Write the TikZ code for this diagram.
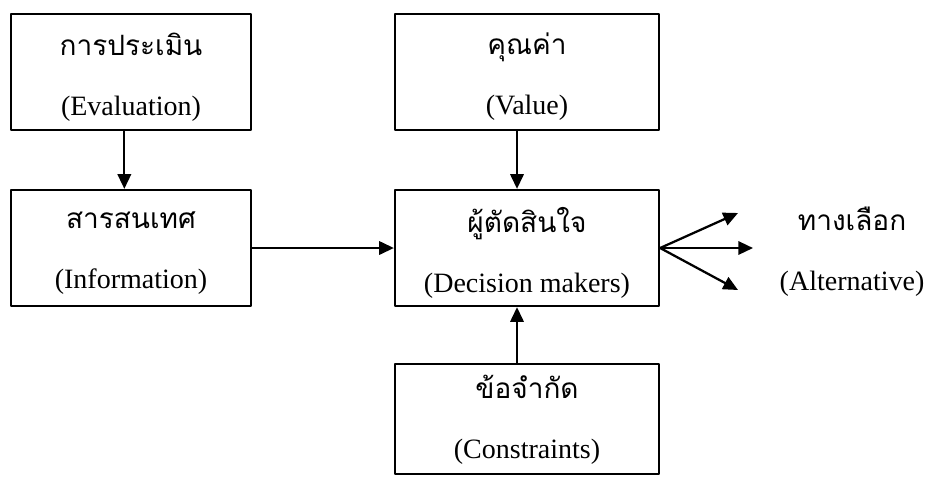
\documentclass[tikz,border=0pt]{standalone}
\usepackage{fontspec}
\setmainfont{Liberation Serif}
\newfontfamily\thai[Script=Thai]{Loma}
\usetikzlibrary{arrows.meta}

\tikzset{
    box/.style={draw,line width=1.7pt,align=center,inner sep=0pt},
    txt/.style={align=center,font=\fontsize{21}{45}\selectfont},
    conn/.style={line width=1.7pt,-{Triangle[length=11pt,width=10pt]}}
}

\begin{document}
\begin{tikzpicture}[line cap=round,line join=round,x=0.75pt,y=-0.75pt]
                \useasboundingbox (0,0) rectangle (937,476);
                % boxes
                \node[box,minimum width=180pt,minimum height=87pt] (eval) at (131,72) {};
                \node[box,minimum width=180pt,minimum height=87pt] (info) at (131,248) {};
                \node[box,minimum width=198pt,minimum height=87pt] (value) at (527,72) {};
                \node[box,minimum width=198pt,minimum height=87pt] (dec) at (527,248) {};
                \node[box,minimum width=198pt,minimum height=82.5pt] (cons) at (527,419) {};
                % texts
                \node[txt] (evalT) at (131,77) {{\thai การประเมิน}\\(Evaluation)};
                \node[txt] (infoT) at (131,253) {{\thai สารสนเทศ}\\(Information)};
                \node[txt] (valueT) at (527,77) {{\thai คุณค่า}\\(Value)};
                \node[txt] (decT) at (527,253) {{\thai ผู้ตัดสินใจ}\\(Decision makers)};
                \node[txt] (consT) at (527,420) {{\thai ข้อจำกัด}\\(Constraints)};
                \node[txt] (alt) at (852,252) {{\thai ทางเลือก}\\(Alternative)};
                % arrows
                \coordinate (alt1) at (738,213);
                \coordinate (alt2) at (753,248);
                \coordinate (alt3) at (738,290);
                \draw[conn] ([xshift=-5pt]eval.south) -- ([xshift=-5pt]info.north);
                \draw[conn] ([xshift=-7.5pt]value.south) -- ([xshift=-7.5pt]dec.north);
                \draw[conn] ([xshift=-7.5pt]cons.north) -- ([xshift=-7.5pt]dec.south);
                \draw[conn] (info.east) -- (dec.west);
                \foreach \a in {alt1,alt2,alt3}
                    \draw[conn] (dec.east) -- (\a);
            \end{tikzpicture}
\end{document}
